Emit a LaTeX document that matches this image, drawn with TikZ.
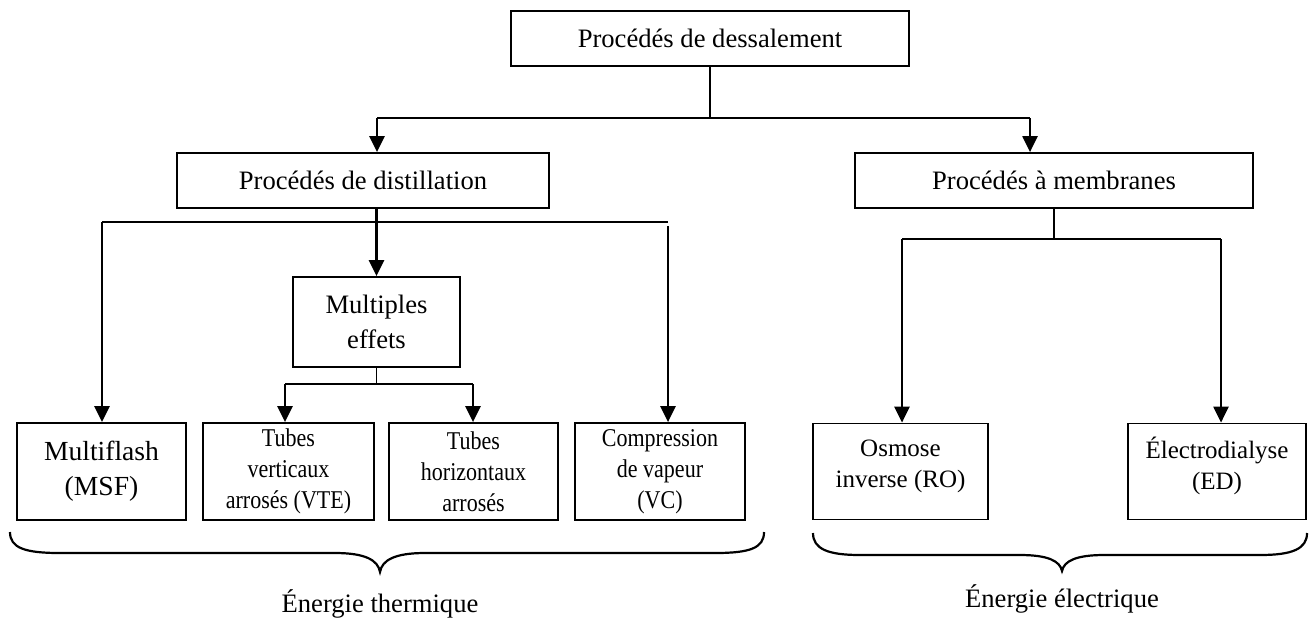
\documentclass[tikz,border=0pt]{standalone}
\usepackage{fontspec}
\setmainfont{Liberation Serif}
\newfontfamily\narrowserif[FakeStretch=0.86]{Liberation Serif}
\usetikzlibrary{arrows.meta}
\tikzset{
  box/.style={draw, line width=0.9pt, align=center, inner sep=0pt, font=\fontsize{13.3}{17.5}\selectfont},
  smallbox/.style={box, font=\narrowserif\fontsize{12.8}{15.5}\selectfont},
  thin/.style={line width=0.7pt},
  arr/.style={line width=1.2pt, -{Triangle[width=7.5pt,length=8pt]}},
  bracestyle/.style={line width=1.1pt},
  lbl/.style={font=\fontsize{13.3}{16}\selectfont}
}
\begin{document}
\begin{tikzpicture}[x=0.5pt,y=-0.5pt]
\useasboundingbox (0,0) rectangle (1309,617);
% boxes
\node[box, minimum width=199pt, minimum height=27.5pt] (top) at (710,38.5) {Procédés de dessalement};
\node[box, minimum width=186pt, minimum height=27.5pt] (dist) at (363,180.5) {Procédés de distillation};
\node[box, minimum width=199pt, minimum height=27.5pt] (memb) at (1054,180.5) {Procédés à membranes};
\node[box, minimum width=83.5pt, minimum height=45pt] (multi) at (376.5,322) {Multiples\\effets};
\node[box, minimum width=84.5pt, minimum height=48.5pt, font=\fontsize{13.8}{17.5}\selectfont] (msf) at (101.5,471.5) {Multiflash\\(MSF)};
\node[smallbox, minimum width=85.5pt, minimum height=48.5pt] (vte) at (288.5,471.5) {Tubes\\verticaux\\arrosés (VTE)};
\node[smallbox, minimum width=84.5pt, minimum height=48.5pt] (hor) at (473.5,471.5) {Tubes\\horizontaux\\arrosés};
\node[smallbox, minimum width=85pt, minimum height=48.5pt] (vc) at (660,471.5) {Compression\\de vapeur\\(VC)};
\node[box, minimum width=87.5pt, minimum height=48pt, font=\fontsize{12.5}{15.5}\selectfont] (ro) at (900.5,471.5) {Osmose\\inverse (RO)\\[-12pt]\strut};
\node[box, minimum width=89pt, minimum height=48pt, font=\fontsize{12.5}{15.5}\selectfont] (ed) at (1217,471.5) {Électrodialyse\\(ED)\\[-12pt]\strut};
% junction coordinates
\coordinate (tj) at (710,118);
\coordinate (tjL) at (377,118);
\coordinate (tjR) at (1030,118);
\coordinate (dL) at (102,222);
\coordinate (dR) at (668,222);
\coordinate (dRv) at (668,226);
\coordinate (mj) at (376.5,384);
\coordinate (mjL) at (285,384);
\coordinate (mjR) at (473,384);
\coordinate (bj) at (1054,239);
\coordinate (bjL) at (902,239);
\coordinate (bjR) at (1221,239);
% top level
\draw[thin] (top.south) -- (tj);
\draw[thin] (tjL) -- (tjR);
\draw[arr] (tjL) -- (tjL |- dist.north);
\draw[arr] (tjR) -- (tjR |- memb.north);
% distillation
\draw[arr] (dist.south -| multi.north) -- (multi.north);
\draw[line width=1.2pt] (dL) -- (dR);
\draw[arr] (dL) -- (dL |- msf.north);
\draw[arr] (dRv) -- (dRv |- vc.north);
% multiples effets
\draw[thin] (multi.south) -- (mj);
\draw[line width=1.2pt] (mjL) -- (mjR);
\draw[arr] (mjL) -- (mjL |- vte.north);
\draw[arr] (mjR) -- (mjR |- hor.north);
% membranes
\draw[thin] (memb.south) -- (bj);
\draw[line width=0.9pt] (bjL) -- (bjR);
\draw[arr] (bjL) -- (bjL |- ro.north);
\draw[arr] (bjR) -- (bjR |- ed.north);
% braces
\draw[bracestyle] (10,532) .. controls (10,548) and (25,553) .. (60,553) -- (335,553) .. controls (365,553) and (378,560) .. (380,572) .. controls (382,560) and (395,553) .. (425,553) -- (715,553) .. controls (750,553) and (764,548) .. (764,532);
\draw[bracestyle] (813,533) .. controls (813,549) and (828,555) .. (860,555) -- (1020,555) .. controls (1048,555) and (1060,561) .. (1062,571) .. controls (1064,561) and (1076,555) .. (1104,555) -- (1260,555) .. controls (1292,555) and (1307,549) .. (1307,533);
\node[lbl] (eth) at (380,604) {Énergie thermique};
\node[lbl] (eel) at (1062,599) {Énergie électrique};
\end{tikzpicture}
\end{document}
